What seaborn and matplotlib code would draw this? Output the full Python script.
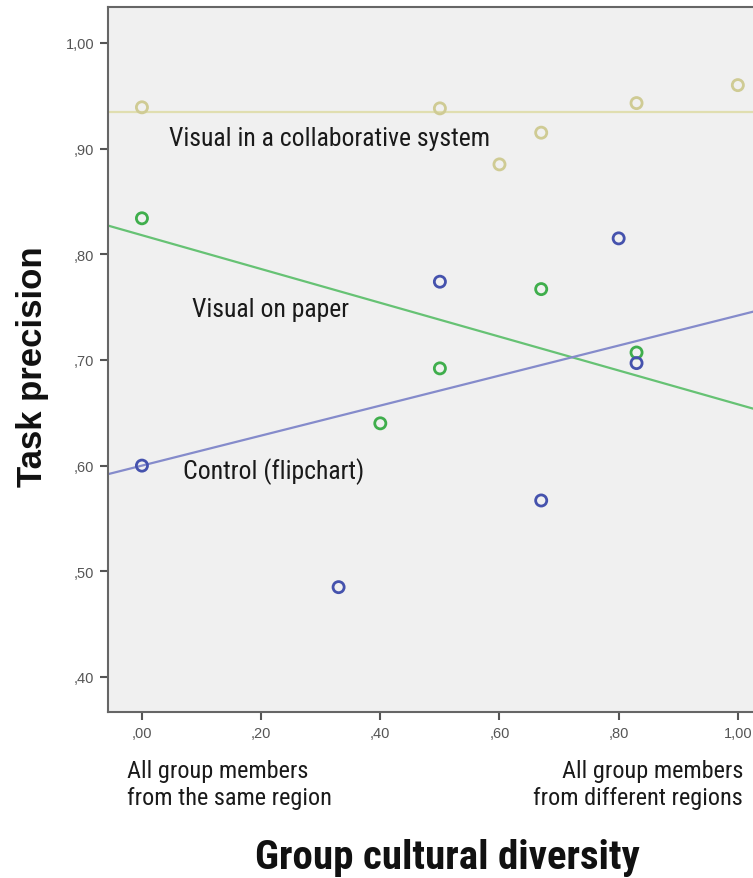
import matplotlib
matplotlib.use("Agg")
import matplotlib.pyplot as plt
from matplotlib import font_manager
from matplotlib.ticker import FuncFormatter
import seaborn as sns

# ==========================================
# DATA
# ==========================================
collab_x = [0.00, 0.50, 0.60, 0.67, 0.83, 1.00]
collab_y = [0.939, 0.938, 0.885, 0.915, 0.943, 0.960]

paper_x = [0.00, 0.40, 0.50, 0.67, 0.83]
paper_y = [0.834, 0.640, 0.692, 0.767, 0.707]

control_x = [0.00, 0.33, 0.50, 0.67, 0.80, 0.83]
control_y = [0.600, 0.485, 0.774, 0.567, 0.815, 0.697]

# fit lines: (intercept, slope)
collab_fit = (0.935, 0.0)
paper_fit = (0.818, -0.160)
control_fit = (0.600, 0.142)

x_ticks = [0.0, 0.2, 0.4, 0.6, 0.8, 1.0]
y_ticks = [0.4, 0.5, 0.6, 0.7, 0.8, 0.9, 1.0]

# ==========================================
# STYLE
# ==========================================
sns.set_style("ticks")
installed = {f.name for f in font_manager.fontManager.ttflist}
narrow = [f for f in ['Liberation Sans Narrow', 'Roboto Condensed', 'Liberation Sans'] if f in installed]
plt.rcParams['font.family'] = narrow + ['DejaVu Sans']

groups = [
    (collab_x, collab_y, collab_fit, '#cfcb94', '#e0deb0'),
    (paper_x, paper_y, paper_fit, '#3fae4c', '#66c274'),
    (control_x, control_y, control_fit, '#4552ad', '#858bcb'),
]

fig = plt.figure(figsize=(7.53, 8.79), dpi=100)
ax = fig.add_axes([0.1434, 0.189, 0.88, 0.802])
ax.set_facecolor('#f0f0f0')

for xs, ys, (b, m), pcol, lcol in groups:
    ax.axline((0, b), slope=m, color=lcol, lw=1.6, zorder=2)
    sns.scatterplot(x=xs, y=ys, ax=ax, s=64, marker='o', facecolors='none',
                    edgecolor=pcol, linewidth=2.0, zorder=3)

ax.set_xlim(-0.057, 1.055)
ax.set_ylim(0.367, 1.034)
ax.set_xticks(x_ticks)
ax.set_yticks(y_ticks)
fmt = FuncFormatter(lambda v, p: f'{v:.2f}'.replace('0.', ',').replace('.', ','))
ax.xaxis.set_major_formatter(fmt)
ax.yaxis.set_major_formatter(fmt)
ax.tick_params(axis='both', direction='out', length=6, width=1.5, color='#555555',
               labelsize=10.5, labelcolor='#555555', pad=4)
for lab in ax.get_xticklabels() + ax.get_yticklabels():
    lab.set_family(['Liberation Sans', 'DejaVu Sans'])
for side in ['left', 'bottom', 'top']:
    ax.spines[side].set_color('#666666')
    ax.spines[side].set_linewidth(1.5)
ax.spines['right'].set_visible(False)

# group labels inside the plot
ax.text(0.046, 0.910, 'Visual in a collaborative system', fontsize=18.5,
        va='center', color='#1a1a1a')
ax.text(0.084, 0.748, 'Visual on paper', fontsize=18.5, va='center', color='#1a1a1a')
ax.text(0.069, 0.595, 'Control (flipchart)', fontsize=18.5, va='center', color='#1a1a1a')

# end labels under the x axis
fig.text(127 / 753, 1 - 785 / 879, 'All group members\nfrom the same region',
         fontsize=17.5, va='center', ha='left', linespacing=1.2, color='#1a1a1a')
fig.text(743 / 753, 1 - 785 / 879, 'All group members\nfrom different regions',
         fontsize=17.5, va='center', ha='right', linespacing=1.2, color='#1a1a1a',
         multialignment='right')

fig.text(447 / 753, 1 - 858 / 879, 'Group cultural diversity', fontsize=29.5,
         fontweight='bold', ha='center', va='center', color='#111111')
fig.text(33 / 753, 1 - 367 / 879, 'Task precision', fontsize=25, rotation=90,
         fontweight='bold', ha='center', va='center', color='#111111',
         family=['Liberation Sans', 'DejaVu Sans'])

fig.savefig('out.png', dpi=100)
